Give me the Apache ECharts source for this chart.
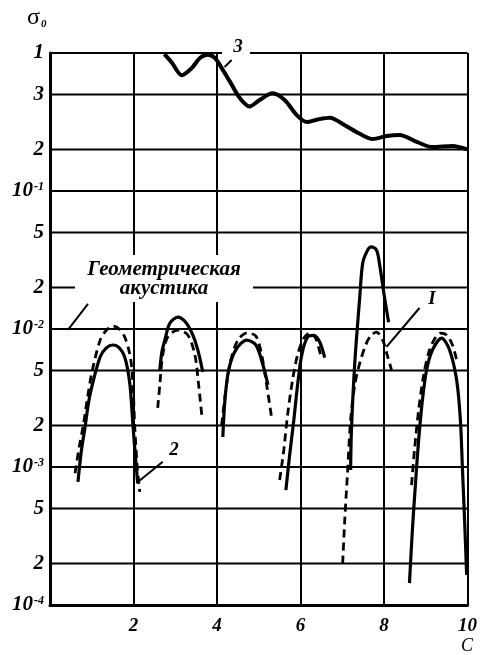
<!DOCTYPE html>
<html>
<head>
<meta charset="utf-8">
<script src="https://cdn.jsdelivr.net/npm/echarts@6/dist/echarts.min.js"></script>
<style>
  html, body { margin: 0; padding: 0; background: #fff; }
  #chart { width: 480px; height: 655px; }
</style>
</head>
<body>
<div id="chart"></div>
<script>
// ---------- data (x = C, y = sigma_0) ----------
const xTicks = [0, 2, 4, 6, 8, 10];
const gridValues = [1, 0.5, 0.2, 0.1, 0.05, 0.02, 0.01, 0.005, 0.002, 0.001, 0.0005, 0.0002, 0.0001];
const gridLabels = ['1', '3', '2', '10{s|-1}', '5', '2', '10{s|-2}', '5', '2', '10{s|-3}', '5', '2', '10{s|-4}'];

const curve3 = [[2.74,0.98],[2.92,0.85],[3.16,0.69],[3.40,0.78],[3.59,0.92],[3.78,0.97],[3.95,0.92],[4.11,0.78],[4.31,0.62],[4.55,0.47],[4.78,0.41],[5.02,0.456],[5.33,0.51],[5.62,0.456],[5.91,0.355],[6.15,0.316],[6.41,0.33],[6.70,0.34],[7.06,0.30],[7.42,0.26],[7.73,0.238],[8.06,0.25],[8.37,0.255],[8.80,0.226],[9.16,0.208],[9.64,0.212],[10,0.20]];

const solid1 = [[0.67,7.8e-4],[0.75,1.3e-3],[0.84,1.95e-3],[0.92,2.9e-3],[1.0,3.8e-3],[1.2,6.27e-3],[1.35,7.3e-3],[1.51,7.66e-3],[1.66,7.3e-3],[1.79,6.27e-3],[1.91,4.06e-3],[1.99,1.95e-3],[2.05,1.15e-3],[2.10,7.6e-4]];
const dashed1 = [[0.60,9.0e-4],[0.70,1.4e-3],[0.79,1.95e-3],[0.90,3.2e-3],[1.0,4.8e-3],[1.2,8.3e-3],[1.35,9.8e-3],[1.51,0.0105],[1.66,0.0100],[1.79,8.75e-3],[1.90,6.8e-3],[1.96,5.2e-3],[2.0,3.3e-3],[2.03,1.95e-3],[2.09,1.0e-3],[2.15,6.6e-4]];

const solid2 = [[2.63,5.05e-3],[2.68,6.8e-3],[2.75,8.3e-3],[2.87,0.011],[3.06,0.0122],[3.25,0.0112],[3.42,9.05e-3],[3.54,7.05e-3],[3.66,4.88e-3]];
const dashed2 = [[2.58,2.68e-3],[2.63,3.93e-3],[2.70,6.5e-3],[2.82,8.75e-3],[3.06,9.8e-3],[3.30,9.05e-3],[3.47,6.5e-3],[3.56,3.93e-3],[3.64,2.3e-3]];

const solid3 = [[4.14,1.65e-3],[4.19,3.06e-3],[4.28,5.05e-3],[4.45,7.05e-3],[4.71,8.3e-3],[4.93,7.66e-3],[5.10,5.5e-3],[5.22,3.93e-3]];
const dashed3 = [[4.11,2.0e-3],[4.21,3.6e-3],[4.33,5.96e-3],[4.50,8.3e-3],[4.71,9.35e-3],[4.93,8.9e-3],[5.07,6.5e-3],[5.19,3.93e-3],[5.31,2.26e-3]];

const solid4 = [[5.65,6.8e-4],[5.74,1.22e-3],[5.84,2.19e-3],[5.93,3.93e-3],[6.03,6.5e-3],[6.17,8.75e-3],[6.32,9.0e-3],[6.46,8.05e-3],[6.58,6.2e-3]];
const dashed4 = [[5.50,8.05e-4],[5.60,1.33e-3],[5.69,2.38e-3],[5.81,4.27e-3],[5.93,6.5e-3],[6.08,8.6e-3],[6.22,9.35e-3],[6.36,8.6e-3],[6.48,6.5e-3]];

const solid5 = [[7.20,9.5e-4],[7.22,1.85e-3],[7.30,5.67e-3],[7.42,0.0171],[7.49,0.030],[7.61,0.0374],[7.70,0.0393],[7.82,0.0374],[7.89,0.030],[8.01,0.0171],[8.11,0.0112]];
const dashed5 = [[7.01,2.0e-4],[7.06,4.13e-4],[7.13,9.5e-4],[7.20,2.19e-3],[7.30,3.93e-3],[7.42,5.67e-3],[7.58,7.9e-3],[7.70,9.05e-3],[7.82,9.5e-3],[7.97,8.3e-3],[8.09,6.27e-3],[8.18,5.05e-3]];

const solid6 = [[8.61,1.44e-4],[8.68,3.5e-4],[8.76,8.05e-4],[8.83,1.57e-3],[8.92,3.06e-3],[9.02,5.05e-3],[9.16,7.05e-3],[9.38,8.6e-3],[9.57,7.05e-3],[9.74,4.27e-3],[9.83,2.19e-3],[9.88,9.5e-4],[9.93,4.13e-4],[9.98,1.65e-4]];
const dashed6 = [[8.66,7.4e-4],[8.73,1.33e-3],[8.83,2.59e-3],[8.95,4.64e-3],[9.09,7.05e-3],[9.24,8.75e-3],[9.35,9.35e-3],[9.50,9.05e-3],[9.64,7.66e-3],[9.74,5.96e-3]];

// leader lines of the annotations
const leader1 = [[8.85,0.0142],[8.06,0.00741]];
const leader2 = [[2.70,1.09e-3],[2.105,7.78e-4]];
const leader3 = [[4.35,0.89],[4.18,0.79]];
const leaderGeo = [[0.91,0.0152],[0.43,0.00984]];

// ---------- chart ----------
const FONT = "'Liberation Serif', 'DejaVu Serif', serif";
const chart = echarts.init(document.getElementById('chart'), null, { renderer: 'canvas' });

function solidSeries(d, w) {
  return { type: 'line', data: d, smooth: 0.3, symbol: 'none', silent: true,
    lineStyle: { color: '#000', width: w || 3.2, type: 'solid' }, z: 3 };
}
function dashedSeries(d) {
  return { type: 'line', data: d, smooth: 0.3, symbol: 'none', silent: true,
    lineStyle: { color: '#000', width: 2.8, type: [8, 5] }, z: 3 };
}
function leaderSeries(d) {
  return { type: 'line', data: d, smooth: false, symbol: 'none', silent: true,
    lineStyle: { color: '#000', width: 2 }, z: 3 };
}
function gridLineSeries(v) {
  return { type: 'line', data: [[xTicks[0], v], [xTicks[xTicks.length - 1], v]], symbol: 'none', silent: true,
    lineStyle: { color: '#000', width: 2 }, z: 1 };
}

const series = [].concat(
  gridValues.map(gridLineSeries),
  [
    solidSeries(curve3, 4),
    solidSeries(solid1), dashedSeries(dashed1),
    solidSeries(solid2), dashedSeries(dashed2),
    solidSeries(solid3), dashedSeries(dashed3),
    solidSeries(solid4), dashedSeries(dashed4),
    solidSeries(solid5), dashedSeries(dashed5),
    solidSeries(solid6), dashedSeries(dashed6),
    leaderSeries(leader1), leaderSeries(leader2), leaderSeries(leader3), leaderSeries(leaderGeo)
  ]
);

const labelFont = 'italic bold 19px ' + FONT;

chart.setOption({
  animation: false,
  backgroundColor: '#fff',
  grid: { left: 50, right: 12, top: 53, bottom: 50, containLabel: false },
  xAxis: {
    type: 'value', min: 0, max: 10, interval: 2,
    axisLine: { show: true, onZero: false, lineStyle: { color: '#000', width: 3 } },
    axisTick: { show: false },
    axisLabel: {
      margin: 12, color: '#000', fontFamily: FONT, fontStyle: 'italic', fontWeight: 'bold', fontSize: 19,
      formatter: v => (v === 0 ? '' : String(v))
    },
    splitLine: { show: true, lineStyle: { color: '#000', width: 2 } }
  },
  yAxis: {
    type: 'log', logBase: 10, min: 0.0001, max: 1,
    axisLine: { show: true, onZero: false, lineStyle: { color: '#000', width: 3 } },
    axisTick: { show: false },
    axisLabel: { show: false },
    splitLine: { show: false }
  },
  series: series
});

// y tick labels, placed through the axis scale
const tickGraphics = gridValues.map((v, i) => {
  const py = chart.convertToPixel({ yAxisIndex: 0 }, v);
  return {
    type: 'text', x: 44, y: py, z: 50,
    style: {
      text: gridLabels[i], fill: '#000', font: 'italic bold 21px ' + FONT,
      align: 'right', verticalAlign: 'middle',
      rich: { s: { font: 'italic bold 12px ' + FONT, fill: '#000', verticalAlign: 'top', padding: [0, 0, 8, 1] } }
    }
  };
});

chart.setOption({
  graphic: tickGraphics.concat([
    { type: 'text', left: 27, top: 6, z: 100,
      style: { text: 'σ{s|0}', fill: '#000', font: '24px ' + FONT,
        rich: { s: { font: 'italic bold 11px ' + FONT, fill: '#000', verticalAlign: 'bottom', padding: [0, 0, 0, 1] } } } },
    { type: 'text', x: 467, y: 646, z: 100,
      style: { text: 'C', fill: '#000', font: 'italic 18px ' + FONT, align: 'center', verticalAlign: 'middle' } },
    // label "3" with gap in the top frame line
    { type: 'rect', z: 100, shape: { x: 222, y: 46, width: 28, height: 10 }, style: { fill: '#fff' } },
    { type: 'text', x: 238, y: 47, z: 101,
      style: { text: '3', fill: '#000', font: labelFont, align: 'center', verticalAlign: 'middle' } },
    // label of curve 1
    { type: 'text', x: 432, y: 299, z: 101,
      style: { text: 'I', fill: '#000', font: labelFont, align: 'center', verticalAlign: 'middle' } },
    // label "2"
    { type: 'text', x: 174, y: 450, z: 101,
      style: { text: '2', fill: '#000', font: labelFont, align: 'center', verticalAlign: 'middle' } },
    // geometric acoustics box
    { type: 'rect', z: 100, shape: { x: 75, y: 255, width: 178, height: 47 }, style: { fill: '#fff' } },
    { type: 'text', x: 164, y: 279, z: 101,
      style: { text: 'Геометрическая\nакустика', fill: '#000', font: 'italic bold 21px ' + FONT,
        align: 'center', verticalAlign: 'middle', lineHeight: 19 } }
  ])
});
</script>
</body>
</html>
